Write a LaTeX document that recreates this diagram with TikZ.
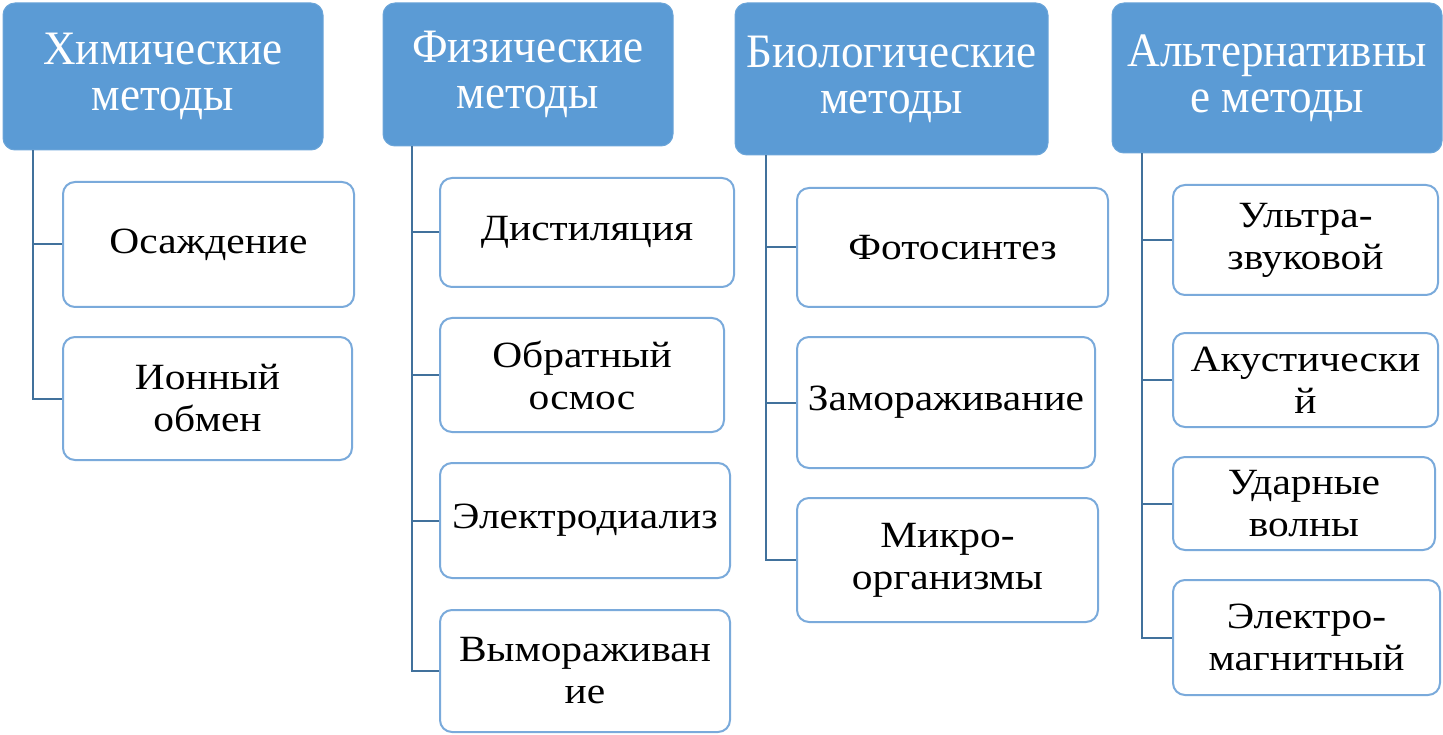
\documentclass[tikz,border=0pt]{standalone}
\usepackage{fontspec}
\setmainfont{Liberation Serif}
\newfontfamily\hdrfont[FakeStretch=0.94]{Liberation Serif}
\newfontfamily\kidfont[FakeStretch=1.12]{Liberation Serif}
\usetikzlibrary{calc}
\definecolor{hdr}{HTML}{5B9BD5}
\definecolor{kidline}{HTML}{7AAADB}
\definecolor{conn}{HTML}{41719C}
\tikzset{
  hdrbox/.style={fill=hdr, draw=hdr!90!white, line width=1pt, rounded corners=12pt, text=white, align=center,
    font=\hdrfont\fontsize{48}{46}\selectfont, inner sep=0pt},
  kidbox/.style={fill=white, draw=kidline, line width=2pt, rounded corners=12pt, text=black, align=center,
    font=\kidfont\fontsize{37}{42}\selectfont, inner sep=0pt},
  link/.style={draw=conn, line width=2pt}
}
\begin{document}
\begin{tikzpicture}[x=1pt,y=-1pt]
\useasboundingbox (0,0) rectangle (1443,735);
% headers
\node[hdrbox, minimum width=320pt, minimum height=147pt] (H1) at (163,76.5) {Химические\\методы};
\node[hdrbox, minimum width=290pt, minimum height=143pt] (H2) at (528,74.5) {Физические\\методы};
\node[hdrbox, minimum width=313pt, minimum height=152pt] (H3) at (891.5,79) {Биологические\\методы};
\node[hdrbox, minimum width=330pt, minimum height=150pt] (H4) at (1277,78) {Альтернативны\\е методы};
% column 1
\node[kidbox, minimum width=291pt, minimum height=125pt] (A1) at (208.5,244.5) {Осаждение};
\node[kidbox, minimum width=289pt, minimum height=123pt] (A2) at (207.5,398.5) {Ионный\\обмен};
% column 2
\node[kidbox, minimum width=294pt, minimum height=109pt] (B1) at (587,232.5) {Дистиляция};
\node[kidbox, minimum width=284pt, minimum height=114pt] (B2) at (582,375) {Обратный\\осмос};
\node[kidbox, minimum width=290pt, minimum height=115pt] (B3) at (585,520.5) {Электродиализ};
\node[kidbox, minimum width=290pt, minimum height=122pt] (B4) at (585,671) {Вымораживан\\ие};
% column 3
\node[kidbox, minimum width=311pt, minimum height=119pt] (C1) at (952.5,247.5) {Фотосинтез};
\node[kidbox, minimum width=298pt, minimum height=131pt] (C2) at (946,402.5) {Замораживание};
\node[kidbox, minimum width=301pt, minimum height=124pt] (C3) at (947.5,560) {Микро-\\организмы};
% column 4
\node[kidbox, minimum width=265pt, minimum height=110pt] (D1) at (1305.5,240) {Ультра-\\звуковой};
\node[kidbox, minimum width=265pt, minimum height=94pt] (D2) at (1305.5,380) {Акустически\\й};
\node[kidbox, minimum width=262pt, minimum height=93pt] (D3) at (1304,503.5) {Ударные\\волны};
\node[kidbox, minimum width=267pt, minimum height=115pt] (D4) at (1306.5,637.5) {Электро-\\магнитный};
% connectors
\coordinate (h1) at ($(H1.south west)+(30,0)$);
\coordinate (h2) at ($(H2.south west)+(29,0)$);
\coordinate (h3) at ($(H3.south west)+(31,0)$);
\coordinate (h4) at ($(H4.south west)+(30,0)$);
\draw[link] (h1) |- (A2.west);
\draw[link] (h1 |- A1.west) -- (A1.west);
\draw[link] (h2) |- (B4.west);
\foreach \k in {B1,B2,B3} \draw[link] (h2 |- \k.west) -- (\k.west);
\draw[link] (h3) |- (C3.west);
\foreach \k in {C1,C2} \draw[link] (h3 |- \k.west) -- (\k.west);
\draw[link] (h4) |- (D4.west);
\foreach \k in {D1,D2,D3} \draw[link] (h4 |- \k.west) -- (\k.west);
\end{tikzpicture}
\end{document}
